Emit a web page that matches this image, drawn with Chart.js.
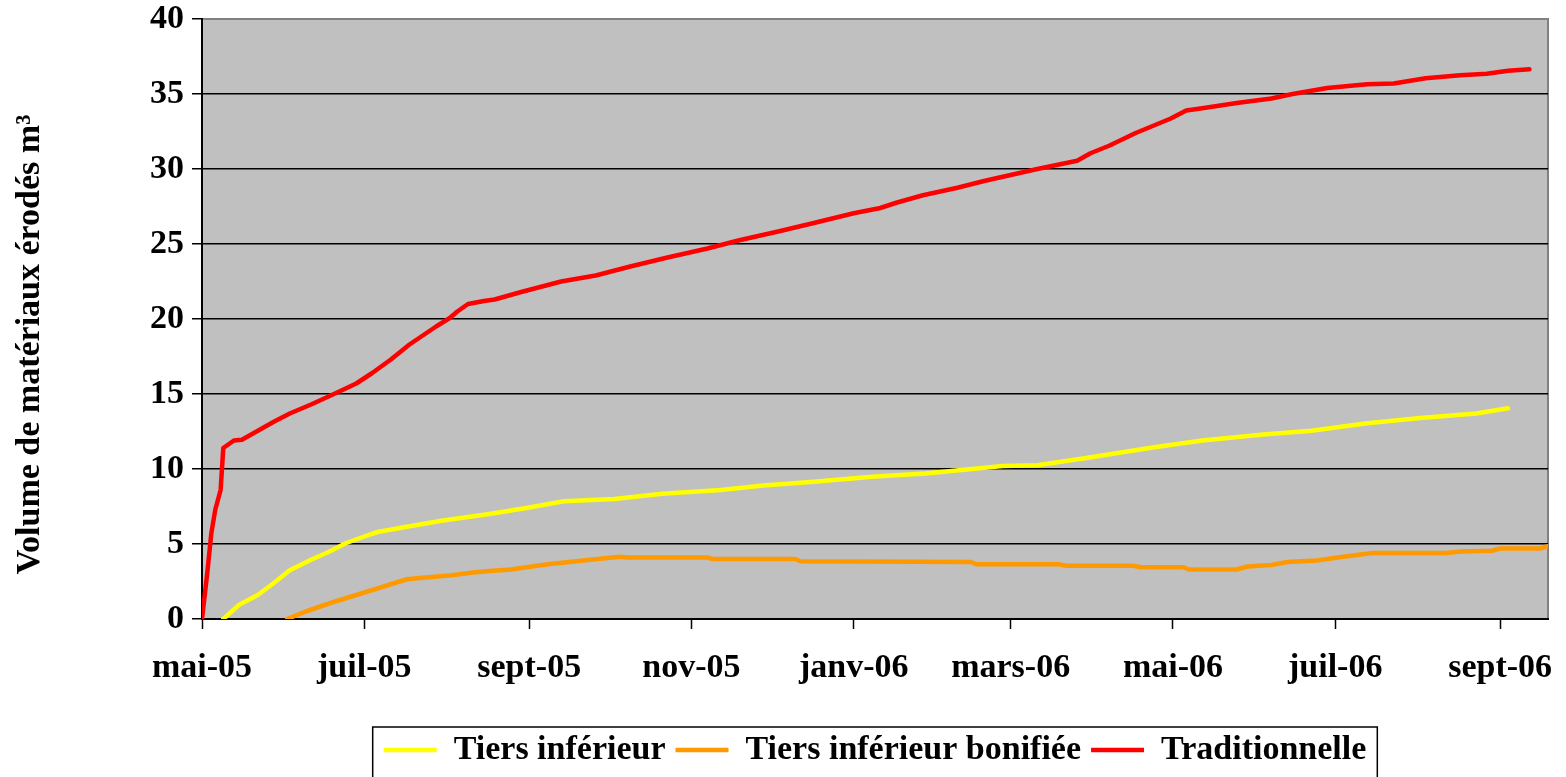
<!DOCTYPE html>
<html>
<head>
<meta charset="utf-8">
<title>Volume de matériaux érodés</title>
<script src="https://cdn.jsdelivr.net/npm/chart.js@4.4.0/dist/chart.umd.min.js"></script>
<style>
  html, body { margin: 0; padding: 0; background: #fff; }
</style>
</head>
<body>
<canvas id="erosionChart" width="1566" height="777"></canvas>
<script>
// x values are days counted from 1 May 2005
const monthTicks = [0, 61, 123, 184, 245, 304, 365, 426, 488];
const monthLabels = ['mai-05', 'juil-05', 'sept-05', 'nov-05', 'janv-06', 'mars-06', 'mai-06', 'juil-06', 'sept-06'];
const yTicks = [0, 5, 10, 15, 20, 25, 30, 35, 40];

const seriesNames = ['Tiers inférieur', 'Tiers inférieur bonifiée', 'Traditionnelle'];
const seriesColors = ['#FFFF00', '#FF9900', '#FF0000'];

const tiersDays = [8, 14, 21, 27, 33, 41, 48, 54, 61, 66,
    77, 90, 100, 108, 122, 136, 155, 173, 195, 211,
    230, 253, 272, 301, 314, 333, 358, 376, 399, 417,
    438, 458, 479, 491];
const tiersValues = [0, 0.95, 1.6, 2.4, 3.25, 3.95, 4.5, 5.05, 5.5, 5.8,
    6.15, 6.55, 6.8, 7.0, 7.4, 7.85, 8.0, 8.35, 8.6, 8.9,
    9.15, 9.5, 9.7, 10.2, 10.25, 10.75, 11.45, 11.9, 12.3, 12.55,
    13.05, 13.4, 13.7, 14.05];

const bonifDays = [32, 39, 48, 58, 68, 77, 83, 93, 102, 108,
    116, 130, 146, 157, 160, 190, 192, 223, 225, 289,
    291, 322, 325, 350, 353, 369, 371, 389, 393, 402,
    408, 419, 429, 440, 468, 473, 485, 488, 503, 506];
const bonifValues = [0, 0.5, 1.05, 1.6, 2.15, 2.65, 2.75, 2.9, 3.1, 3.2,
    3.3, 3.65, 3.95, 4.15, 4.1, 4.1, 4.0, 4.0, 3.85, 3.8,
    3.65, 3.65, 3.55, 3.55, 3.45, 3.45, 3.3, 3.3, 3.5, 3.6,
    3.8, 3.9, 4.15, 4.4, 4.4, 4.5, 4.55, 4.7, 4.7, 4.85];

const tradDays = [0, 2, 3.5, 5, 7, 8, 12, 15, 21, 27,
    33, 41, 49, 58, 64, 71, 78, 83, 88, 93,
    96, 100, 106, 110, 120, 135, 148, 161, 175, 190,
    202, 217, 230, 245, 255, 261, 271, 284, 294, 304,
    314, 329, 334, 341, 351, 364, 370, 376, 389, 402,
    410, 423, 438, 448, 460, 473, 483, 491, 499];
const tradValues = [0, 3.1, 5.7, 7.3, 8.6, 11.4, 11.9, 11.95, 12.55, 13.15,
    13.7, 14.3, 14.95, 15.7, 16.4, 17.3, 18.3, 18.9, 19.5, 20.05,
    20.5, 21.0, 21.2, 21.3, 21.8, 22.5, 22.9, 23.5, 24.1, 24.7,
    25.25, 25.85, 26.4, 27.05, 27.4, 27.75, 28.25, 28.75, 29.2, 29.6,
    30.0, 30.55, 31.05, 31.55, 32.4, 33.35, 33.9, 34.05, 34.4, 34.7,
    35.0, 35.4, 35.65, 35.7, 36.05, 36.25, 36.35, 36.55, 36.65];

function toPoints(days, values) {
    return days.map((d, i) => ({ x: d, y: values[i] }));
}

const serifFont = "'Liberation Serif', 'Times New Roman', serif";
Chart.defaults.font.family = serifFont;
Chart.defaults.color = '#000';

// grey plot background and frame
const plotBackground = {
    id: 'plotBackground',
    beforeDraw(chart) {
        const { ctx, chartArea: a } = chart;
        ctx.save();
        ctx.fillStyle = '#C0C0C0';
        ctx.fillRect(a.left, a.top, a.right - a.left, a.bottom - a.top);
        ctx.strokeStyle = '#808080';
        ctx.lineWidth = 2;
        ctx.strokeRect(a.left, a.top, a.right - a.left, a.bottom - a.top);
        ctx.restore();
    }
};

// box around the legend
const legendFrame = {
    id: 'legendFrame',
    afterDraw(chart) {
        const lg = chart.legend;
        if (!lg || !lg.legendHitBoxes.length) return;
        const boxes = lg.legendHitBoxes;
        const left = Math.min(...boxes.map(b => b.left)) - 11;
        const right = Math.max(...boxes.map(b => b.left + b.width)) + 11;
        const top = lg.top + 4;
        const ctx = chart.ctx;
        ctx.save();
        ctx.strokeStyle = '#000';
        ctx.lineWidth = 1.5;
        ctx.strokeRect(left, top, right - left, chart.height - top + 10);
        ctx.restore();
    }
};

const ctx = document.getElementById('erosionChart').getContext('2d');
new Chart(ctx, {
    type: 'line',
    data: {
        datasets: [
            { label: seriesNames[0], data: toPoints(tiersDays, tiersValues) },
            { label: seriesNames[1], data: toPoints(bonifDays, bonifValues) },
            { label: seriesNames[2], data: toPoints(tradDays, tradValues) }
        ].map((ds, i) => Object.assign(ds, {
            borderColor: seriesColors[i],
            backgroundColor: seriesColors[i],
            borderWidth: 4.5,
            borderCapStyle: 'round',
            borderJoinStyle: 'round',
            pointRadius: 0,
            tension: 0,
            fill: false
        }))
    },
    options: {
        responsive: false,
        animation: false,
        layout: { padding: { top: 19, right: 18, left: 6, bottom: 0 } },
        scales: {
            x: {
                type: 'linear',
                min: 0,
                max: 506,
                afterBuildTicks: (scale) => {
                    scale.ticks = monthTicks.map(v => ({ value: v }));
                },
                afterFit: (scale) => {
                    scale.height = 104;
                    scale.paddingLeft = 0;
                    scale.paddingRight = 0;
                },
                ticks: {
                    autoSkip: false,
                    maxRotation: 0,
                    padding: 19,
                    font: { size: 34, weight: 'bold' },
                    callback: (value) => monthLabels[monthTicks.indexOf(value)]
                },
                grid: {
                    drawOnChartArea: false,
                    drawTicks: true,
                    tickLength: 10,
                    tickColor: '#000',
                    tickWidth: 1.5
                },
                border: { color: '#000', width: 2 }
            },
            y: {
                min: 0,
                max: 40,
                afterBuildTicks: (scale) => {
                    scale.ticks = yTicks.map(v => ({ value: v }));
                },
                afterFit: (scale) => {
                    scale.width = 196;
                    scale.paddingTop = 0;
                    scale.paddingBottom = 0;
                },
                ticks: {
                    padding: 8,
                    font: { size: 34, weight: 'bold' }
                },
                grid: {
                    color: (c) => (c.tick && c.tick.value === 40 ? '#808080' : '#000'),
                    lineWidth: 1.5,
                    tickLength: 10,
                    tickColor: '#000',
                    tickWidth: 1.5
                },
                border: { color: '#000', width: 2 },
                title: {
                    display: true,
                    text: 'Volume de matériaux érodés m³' + '\u00a0'.repeat(6),
                    font: { size: 34, weight: 'bold' },
                    padding: { top: 4, bottom: 4 }
                }
            }
        },
        plugins: {
            legend: {
                position: 'bottom',
                fullSize: false,
                labels: {
                    usePointStyle: true,
                    pointStyle: 'line',
                    pointStyleWidth: 53,
                    padding: 10,
                    color: '#000',
                    font: { size: 34, weight: 'bold' }
                }
            },
            tooltip: { enabled: false }
        }
    },
    plugins: [plotBackground, legendFrame]
});
</script>
</body>
</html>
